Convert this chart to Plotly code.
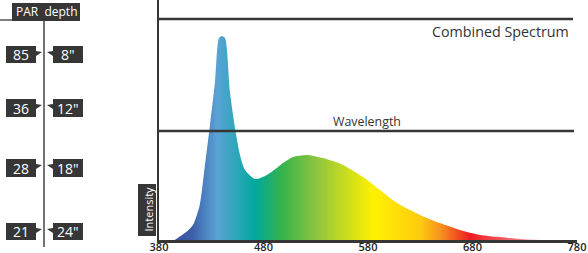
import plotly.graph_objects as go

# ---- data ----
wavelength = [395, 398, 405, 412.5, 419, 424, 428.8, 433.6, 437.4, 440.3, 443.2, 447.9, 452.7,
              457.5, 462.3, 471.9, 483.3, 493.9, 498.7, 508.2, 521.6, 536.9, 556.1, 575.2,
              591.5, 607.8, 629.8, 648.9, 668.0, 687.2, 706.3, 725.5, 745]
intensity = [0, 1.0, 3.5, 7.4, 17.2, 36.8, 56.4, 77.5, 99.0, 100, 99.0, 72.5, 54.9,
             41.7, 34.3, 29.9, 31.9, 35.8, 37.7, 40.7, 41.7, 40.2, 36.8, 30.9,
             24.5, 18.1, 12.3, 8.3, 4.9, 2.5, 1.5, 0.5, 0]
x_ticks = [380, 480, 580, 680, 780]

color_wl = [395, 411, 436, 472, 498, 530, 585, 630, 649, 678, 745]
color_hex = ["#3a4f9f", "#3c5ea9", "#5aa3d6", "#00a99d", "#36b34b", "#8cc53f",
             "#fff100", "#fdcb0e", "#f7941d", "#ed1c24", "#f3a0a6"]

par_values = ["85", "36", "28", "21"]
depth_labels = ['8"', '12"', '18"', '24"']

W, H = 588, 253
DARK = "#363636"

def px(x):
    return x / W

def py(y):
    return 1 - y / H

wl0, wl1 = min(color_wl), max(color_wl)
colorscale = [[(w - wl0) / (wl1 - wl0), c] for w, c in zip(color_wl, color_hex)]

fig = go.Figure()
fig.add_trace(go.Scatter(
    x=wavelength, y=intensity, mode="lines",
    line=dict(width=0, shape="spline", smoothing=0.7, color="rgba(0,0,0,0)"),
    fill="tozeroy",
    fillgradient=dict(type="horizontal", colorscale=colorscale, start=wl0, stop=wl1),
    hoverinfo="skip", showlegend=False,
))

shapes = []
annotations = []
FONT = "Open Sans"

# horizontal guide lines in chart
for y, x1 in [(19, 573), (131, 574)]:
    shapes.append(dict(type="line", xref="paper", yref="paper", x0=px(159), x1=px(x1),
                       y0=py(y), y1=py(y), line=dict(color=DARK, width=2.5)))

annotations.append(dict(text="Combined Spectrum", xref="paper", yref="paper",
                        x=px(571), y=py(32), xanchor="right", yanchor="middle",
                        showarrow=False, font=dict(family=FONT, size=14.3, color="#333")))
annotations.append(dict(text="Wavelength", xref="paper", yref="paper",
                        x=px(367), y=py(121), xanchor="center", yanchor="middle",
                        showarrow=False, font=dict(family=FONT, size=12.4, color="#333")))

# Intensity label box
shapes.append(dict(type="rect", xref="paper", yref="paper", x0=px(138), x1=px(156),
                   y0=py(236), y1=py(184), fillcolor=DARK, line=dict(width=0)))
annotations.append(dict(text="Intensity", xref="paper", yref="paper", x=px(147.5), y=py(209),
                        xanchor="center", yanchor="middle", textangle=-90, showarrow=False,
                        font=dict(family=FONT, size=11, color="white")))

# Left PAR / depth panel
shapes.append(dict(type="rect", xref="paper", yref="paper", x0=px(12), x1=px(80),
                   y0=py(21), y1=py(3), fillcolor=DARK, line=dict(width=0)))
annotations.append(dict(text="PAR\u00a0\u00a0depth", xref="paper", yref="paper", x=px(47), y=py(12),
                        xanchor="center", yanchor="middle", showarrow=False,
                        font=dict(family=FONT, size=12, color="white")))
shapes.append(dict(type="line", xref="paper", yref="paper", x0=px(0), x1=px(12),
                   y0=py(20), y1=py(20), line=dict(color="#555", width=1.5)))
shapes.append(dict(type="line", xref="paper", yref="paper", x0=px(44), x1=px(44),
                   y0=py(21), y1=py(247), line=dict(color="#444", width=1.5)))

rows = [(46, 63), (99, 117), (159, 177), (223, 240)]
for (t, b), pv, dl in zip(rows, par_values, depth_labels):
    shapes.append(dict(type="rect", xref="paper", yref="paper", x0=px(6), x1=px(36),
                       y0=py(b), y1=py(t), fillcolor=DARK, line=dict(width=0)))
    shapes.append(dict(type="path", xref="paper", yref="paper",
                       path=f"M {px(36)},{py(t+5)} L {px(42)},{py(t+6)} L {px(36)},{py(t+10)} Z",
                       fillcolor=DARK, line=dict(width=0)))
    shapes.append(dict(type="rect", xref="paper", yref="paper", x0=px(53), x1=px(83),
                       y0=py(b), y1=py(t), fillcolor=DARK, line=dict(width=0)))
    shapes.append(dict(type="path", xref="paper", yref="paper",
                       path=f"M {px(53)},{py(t+5)} L {px(47)},{py(t+6)} L {px(53)},{py(t+10)} Z",
                       fillcolor=DARK, line=dict(width=0)))
    cy = (t + b) / 2
    annotations.append(dict(text=pv, xref="paper", yref="paper", x=px(21), y=py(cy),
                            xanchor="center", yanchor="middle", showarrow=False,
                            font=dict(family=FONT, size=14, color="white")))
    annotations.append(dict(text=dl, xref="paper", yref="paper", x=px(68), y=py(cy),
                            xanchor="center", yanchor="middle", showarrow=False,
                            font=dict(family=FONT, size=14, color="white")))

fig.update_layout(
    width=W, height=H, margin=dict(l=0, r=0, t=0, b=0, autoexpand=False),
    paper_bgcolor="white", plot_bgcolor="white",
    shapes=shapes, annotations=annotations,
    xaxis=dict(domain=[px(159), px(577)], range=[380, 780], tickvals=x_ticks,
               ticktext=[str(v) for v in x_ticks], showgrid=False, zeroline=False,
               showline=True, linecolor=DARK, linewidth=3, ticks="", automargin=False,
               ticklabelstandoff=-5,
               tickfont=dict(family=FONT, size=11, color="#222", weight=600),
               fixedrange=True),
    yaxis=dict(domain=[(H - 240) / H, 1], range=[0, 117.6], showticklabels=False,
               showgrid=False, zeroline=False, showline=True, linecolor=DARK,
               linewidth=2, ticks="", automargin=False, fixedrange=True),
)

fig.write_html("out.html")
